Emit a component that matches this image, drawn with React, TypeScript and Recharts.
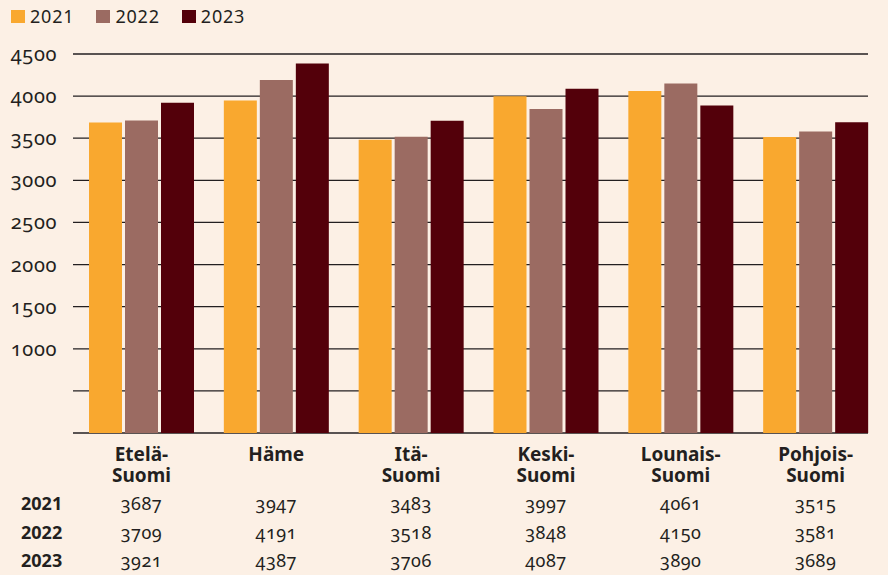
import React from 'react';
import { BarChart, Bar, XAxis, YAxis, CartesianGrid } from 'recharts';

const categories = ['Etelä-Suomi', 'Häme', 'Itä-Suomi', 'Keski-Suomi', 'Lounais-Suomi', 'Pohjois-Suomi'];
const years = ['2021', '2022', '2023'];
const values2021 = [3687, 3947, 3483, 3997, 4061, 3515];
const values2022 = [3709, 4191, 3518, 3848, 4150, 3581];
const values2023 = [3921, 4387, 3706, 4087, 3890, 3689];
const yTicks = [0, 500, 1000, 1500, 2000, 2500, 3000, 3500, 4000, 4500];

const seriesValues = [values2021, values2022, values2023];
const colors = ['#F9A82F', '#9B6B62', '#53000A'];

const data = categories.map((name, i) => ({
  name,
  y2021: values2021[i],
  y2022: values2022[i],
  y2023: values2023[i],
}));

const FONT = '"Noto Sans", sans-serif';
const INK = '#231F20';
const BG = '#FCF0E5';
const OLDSTYLE: React.CSSProperties = { fontVariantNumeric: 'oldstyle-nums', fontFeatureSettings: '"onum"' };

// plot bottom and table rows (baselines)
const PLOT_BOTTOM = 433;
const ROW_BASELINES = [510, 539, 567];

function splitLabel(label: string) {
  const m = label.match(/^(.*-)(.+)$/);
  return m ? [m[1], m[2]] : [label];
}

const YTick = (props: any) => {
  const { y, payload } = props;
  if (payload.value < 1000) return <g />;
  return (
    <text x={57} y={y + 7} textAnchor="end" fontFamily={FONT} fontSize={20} fill={INK} style={{ ...OLDSTYLE, letterSpacing: 0.6 }}>
      {payload.value}
    </text>
  );
};

const XTick = (props: any) => {
  const { x, payload, index } = props;
  const lines = splitLabel(payload.value);
  return (
    <g>
      <text x={x} y={PLOT_BOTTOM + 28} textAnchor="middle" fontFamily={FONT} fontSize={19} fontWeight={700} fill={INK}>
        {lines.map((line, i) => (
          <tspan key={i} x={x} dy={i === 0 ? 0 : 20.5}>{line}</tspan>
        ))}
      </text>
      {seriesValues.map((vals, r) => (
        <text key={'v' + r} x={x} y={ROW_BASELINES[r]} textAnchor="middle" fontFamily={FONT} fontSize={18} fill={INK} style={{ ...OLDSTYLE, letterSpacing: 0.5 }}>
          {vals[index]}
        </text>
      ))}
    </g>
  );
};

export default function App() {
  return (
    <div style={{ position: 'fixed', left: 0, top: 0, width: 888, height: 575, background: BG, fontFamily: FONT }}>
      {/* Legend */}
      <div style={{ position: 'absolute', left: 11, top: 3, display: 'flex', alignItems: 'center', height: 26 }}>
        {years.map((yr, i) => (
          <div key={yr} style={{ display: 'flex', alignItems: 'center', marginRight: 22 }}>
            <div style={{ width: 14, height: 13, background: colors[i], marginRight: 5 }} />
            <span style={{ fontSize: 18, color: INK, letterSpacing: 0.8 }}>{yr}</span>
          </div>
        ))}
      </div>

      {/* Table row labels */}
      {years.map((yr, r) => (
        <div key={yr} style={{ position: 'absolute', left: 21, top: ROW_BASELINES[r] - 19, fontSize: 18, fontWeight: 700, color: INK, lineHeight: '24px' }}>
          {yr}
        </div>
      ))}

      <div style={{ position: 'absolute', left: 0, top: 0 }}>
        <BarChart width={888} height={575} data={data} margin={{ top: 54, right: 5, left: 0, bottom: 0 }} barGap={3}>
          <CartesianGrid vertical={false} stroke={INK} strokeWidth={1.3} x={73} width={795} />
          <XAxis dataKey="name" height={142} axisLine={false} tickLine={false} interval={0} tick={<XTick />} />
          <YAxis width={74} domain={[0, 4500]} ticks={yTicks} interval={0} axisLine={false} tickLine={false} tick={<YTick />} />
          <Bar dataKey="y2021" fill={colors[0]} barSize={33} isAnimationActive={false} />
          <Bar dataKey="y2022" fill={colors[1]} barSize={33} isAnimationActive={false} />
          <Bar dataKey="y2023" fill={colors[2]} barSize={33} isAnimationActive={false} />
        </BarChart>
      </div>
    </div>
  );
}
